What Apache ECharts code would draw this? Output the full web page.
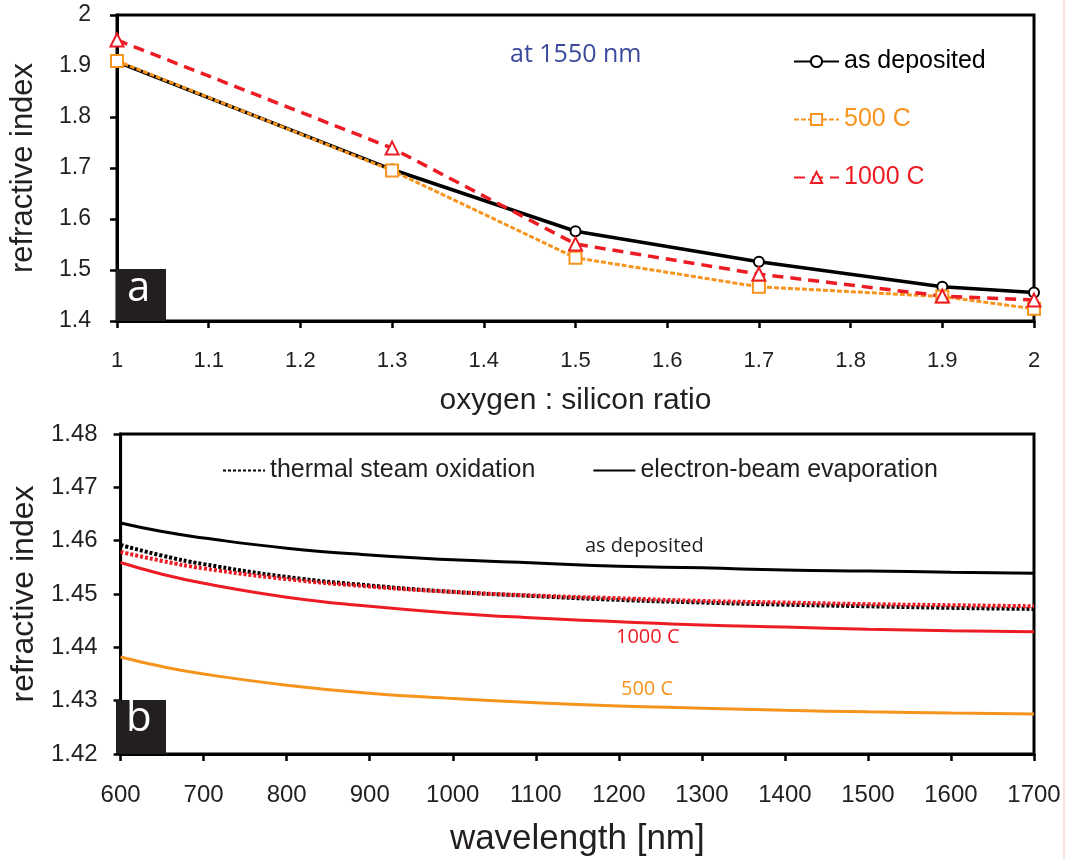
<!DOCTYPE html>
<html>
<head>
<meta charset="utf-8">
<script src="https://cdn.jsdelivr.net/npm/echarts@6/dist/echarts.min.js"></script>
<style>
  html, body { margin: 0; padding: 0; background: #fff; }
  #main { width: 1068px; height: 859px; }
</style>
</head>
<body>
<div id="main"></div>
<script>
var myChart = echarts.init(document.getElementById('main'));

// panel a: refractive index at 1550 nm vs O:Si ratio
var ratio = [1, 1.3, 1.5, 1.7, 1.9, 2];
var asDeposited = [1.908, 1.697, 1.576, 1.516, 1.467, 1.456];
var annealed500 = [1.91, 1.695, 1.524, 1.467, 1.448, 1.424];
var annealed1000 = [1.951, 1.739, 1.551, 1.492, 1.449, 1.441];

// panel b: dispersion curves
var wavelength = [600, 650, 700, 800, 900, 1000, 1100, 1200, 1300, 1400, 1500, 1600, 1700];
var steamAsDep = [1.4592, 1.4572, 1.4556, 1.4532, 1.4516, 1.4504, 1.4496, 1.4489, 1.4484, 1.4480, 1.4477, 1.4474, 1.4472];
var steam1000 = [1.4579, 1.4562, 1.4548, 1.4528, 1.4514, 1.4504, 1.4497, 1.4492, 1.4487, 1.4484, 1.4481, 1.4479, 1.4477];
var ebeamAsDep = [1.4633, 1.4617, 1.4605, 1.4586, 1.4573, 1.4564, 1.4558, 1.4552, 1.4549, 1.4545, 1.4543, 1.4541, 1.4539];
var ebeam1000 = [1.4559, 1.4537, 1.4520, 1.4494, 1.4477, 1.4464, 1.4455, 1.4448, 1.4442, 1.4438, 1.4434, 1.4431, 1.4429];
var ebeam500 = [1.4382, 1.4364, 1.4350, 1.4329, 1.4314, 1.4304, 1.4296, 1.4290, 1.4286, 1.4282, 1.4279, 1.4277, 1.4275];

function pairs(xs, ys) {
    return xs.map(function (x, i) { return [x, ys[i]]; });
}

var BLACK = '#000000';
var ORANGE = '#f7941d';
var RED = '#ed1c24';
var FONT = "'Liberation Sans', Arial, sans-serif";
var tickText = { color: '#231f20', fontFamily: FONT, formatter: function (v) { return String(v); } };

function axisBase() {
    return {
        axisLine: { show: true, lineStyle: { color: BLACK, width: 3 } },
        axisTick: { show: true, length: 7, lineStyle: { color: BLACK, width: 2.5 } },
        splitLine: { show: false }
    };
}

var option = {
    animation: false,
    backgroundColor: '#ffffff',
    grid: [
        { left: 116, top: 15, width: 918, height: 306, show: true, borderColor: BLACK, borderWidth: 3 },
        { left: 116, top: 434, width: 918, height: 320, show: true, borderColor: BLACK, borderWidth: 3 }
    ],
    xAxis: [
        Object.assign(axisBase(), {
            gridIndex: 0, type: 'value', min: 1, max: 2, interval: 0.1,
            axisLabel: Object.assign({ fontSize: 22, margin: 29 }, tickText),
            name: 'oxygen : silicon ratio', nameLocation: 'middle', nameGap: 65,
            nameTextStyle: { fontSize: 30, color: '#231f20', fontFamily: FONT }
        }),
        Object.assign(axisBase(), {
            gridIndex: 1, type: 'value', min: 600, max: 1700, interval: 100,
            axisLabel: Object.assign({ fontSize: 24, margin: 29 }, tickText),
            name: 'wavelength [nm]', nameLocation: 'middle', nameGap: 68,
            nameTextStyle: { fontSize: 35, color: '#231f20', fontFamily: FONT }
        })
    ],
    yAxis: [
        Object.assign(axisBase(), {
            gridIndex: 0, type: 'value', min: 1.4, max: 2, interval: 0.1,
            axisLabel: Object.assign({ fontSize: 23, margin: 26 }, tickText),
            name: 'refractive index', nameLocation: 'middle', nameGap: 78,
            nameTextStyle: { fontSize: 31, color: '#231f20', fontFamily: FONT }
        }),
        Object.assign(axisBase(), {
            gridIndex: 1, type: 'value', min: 1.42, max: 1.48, interval: 0.01,
            axisLabel: Object.assign({ fontSize: 24, margin: 23 }, tickText),
            name: 'refractive index', nameLocation: 'middle', nameGap: 79,
            nameTextStyle: { fontSize: 32, color: '#231f20', fontFamily: FONT }
        })
    ],
    legend: [
        {
            orient: 'vertical', left: 788, top: 44,
            itemWidth: 45, itemHeight: 14, itemGap: 33,
            textStyle: { fontSize: 25, fontFamily: FONT },
            data: [
                { name: 'as deposited', textStyle: { color: BLACK } },
                { name: '500 C', textStyle: { color: ORANGE } },
                { name: '1000 C', textStyle: { color: RED } }
            ]
        },
        {
            orient: 'horizontal', left: 217, top: 453,
            itemWidth: 42, itemHeight: 14, itemGap: 57,
            itemStyle: { color: 'transparent', borderColor: 'transparent', borderWidth: 0 },
            textStyle: { fontSize: 25, fontFamily: FONT, color: '#231f20' },
            data: ['thermal steam oxidation', 'electron-beam evaporation']
        }
    ],
    series: [
        {
            name: 'as deposited', type: 'line', xAxisIndex: 0, yAxisIndex: 0,
            data: pairs(ratio, asDeposited),
            symbol: 'emptyCircle', symbolSize: 10,
            lineStyle: { color: BLACK, width: 3.5 },
            itemStyle: { color: BLACK, borderWidth: 2.5 }
        },
        {
            name: '500 C', type: 'line', xAxisIndex: 0, yAxisIndex: 0,
            data: pairs(ratio, annealed500),
            symbol: 'emptyRect', symbolSize: 12,
            lineStyle: { color: ORANGE, width: 3, type: [5, 2] },
            itemStyle: { color: ORANGE, borderWidth: 3 }
        },
        {
            name: '1000 C', type: 'line', xAxisIndex: 0, yAxisIndex: 0,
            data: pairs(ratio, annealed1000),
            symbol: 'emptyTriangle', symbolSize: 13,
            lineStyle: { color: RED, width: 3.5, type: [11, 7] },
            itemStyle: { color: RED, borderWidth: 3 }
        },
        {
            name: 'electron-beam evaporation', type: 'line', xAxisIndex: 1, yAxisIndex: 1,
            data: pairs(wavelength, ebeamAsDep), smooth: true, showSymbol: false, symbol: 'none',
            lineStyle: { color: BLACK, width: 3 }, itemStyle: { color: BLACK }
        },
        {
            name: 'e-beam 1000 C', type: 'line', xAxisIndex: 1, yAxisIndex: 1,
            data: pairs(wavelength, ebeam1000), smooth: true, showSymbol: false, symbol: 'none',
            lineStyle: { color: RED, width: 3 }, itemStyle: { color: RED }
        },
        {
            name: 'e-beam 500 C', type: 'line', xAxisIndex: 1, yAxisIndex: 1,
            data: pairs(wavelength, ebeam500), smooth: true, showSymbol: false, symbol: 'none',
            lineStyle: { color: ORANGE, width: 3 }, itemStyle: { color: ORANGE }
        },
        {
            name: 'thermal steam oxidation', type: 'line', xAxisIndex: 1, yAxisIndex: 1,
            data: pairs(wavelength, steamAsDep), smooth: true, showSymbol: false, symbol: 'none',
            lineStyle: { color: BLACK, width: 4, type: [3, 2] }, itemStyle: { color: BLACK }
        },
        {
            name: 'steam 1000 C', type: 'line', xAxisIndex: 1, yAxisIndex: 1,
            data: pairs(wavelength, steam1000), smooth: true, showSymbol: false, symbol: 'none',
            lineStyle: { color: RED, width: 4, type: [3, 2] }, itemStyle: { color: RED }
        }
    ],
    graphic: [
        { type: 'text', left: 510, top: 42, style: { text: 'at 1550 nm', fill: '#3b4a9c', font: "25px 'Open Sans', sans-serif" } },
        { type: 'text', left: 585, top: 536, style: { text: 'as deposited', fill: '#231f20', font: "20px 'Open Sans', sans-serif" } },
        { type: 'text', left: 616, top: 627, style: { text: '1000 C', fill: RED, font: "20px 'Open Sans', sans-serif" } },
        { type: 'text', left: 621, top: 679, style: { text: '500 C', fill: ORANGE, font: "20px 'Open Sans', sans-serif" } },
        { type: 'rect', shape: { x: 116, y: 269, width: 50, height: 52 }, style: { fill: '#231f20' }, z: 100 },
        { type: 'text', left: 127, top: 268, z: 101, style: { text: 'a', fill: '#ffffff', font: "42px 'Open Sans', sans-serif" } },
        { type: 'rect', shape: { x: 116, y: 700, width: 50, height: 54 }, style: { fill: '#231f20' }, z: 100 },
        { type: 'text', left: 126, top: 698, z: 101, style: { text: 'b', fill: '#ffffff', font: "42px 'Open Sans', sans-serif" } },
        { type: 'line', shape: { x1: 1064, y1: 0, x2: 1064, y2: 859 }, style: { stroke: '#f5d8cc', lineWidth: 1.5 } }
    ]
};

myChart.setOption(option);
</script>
</body>
</html>
